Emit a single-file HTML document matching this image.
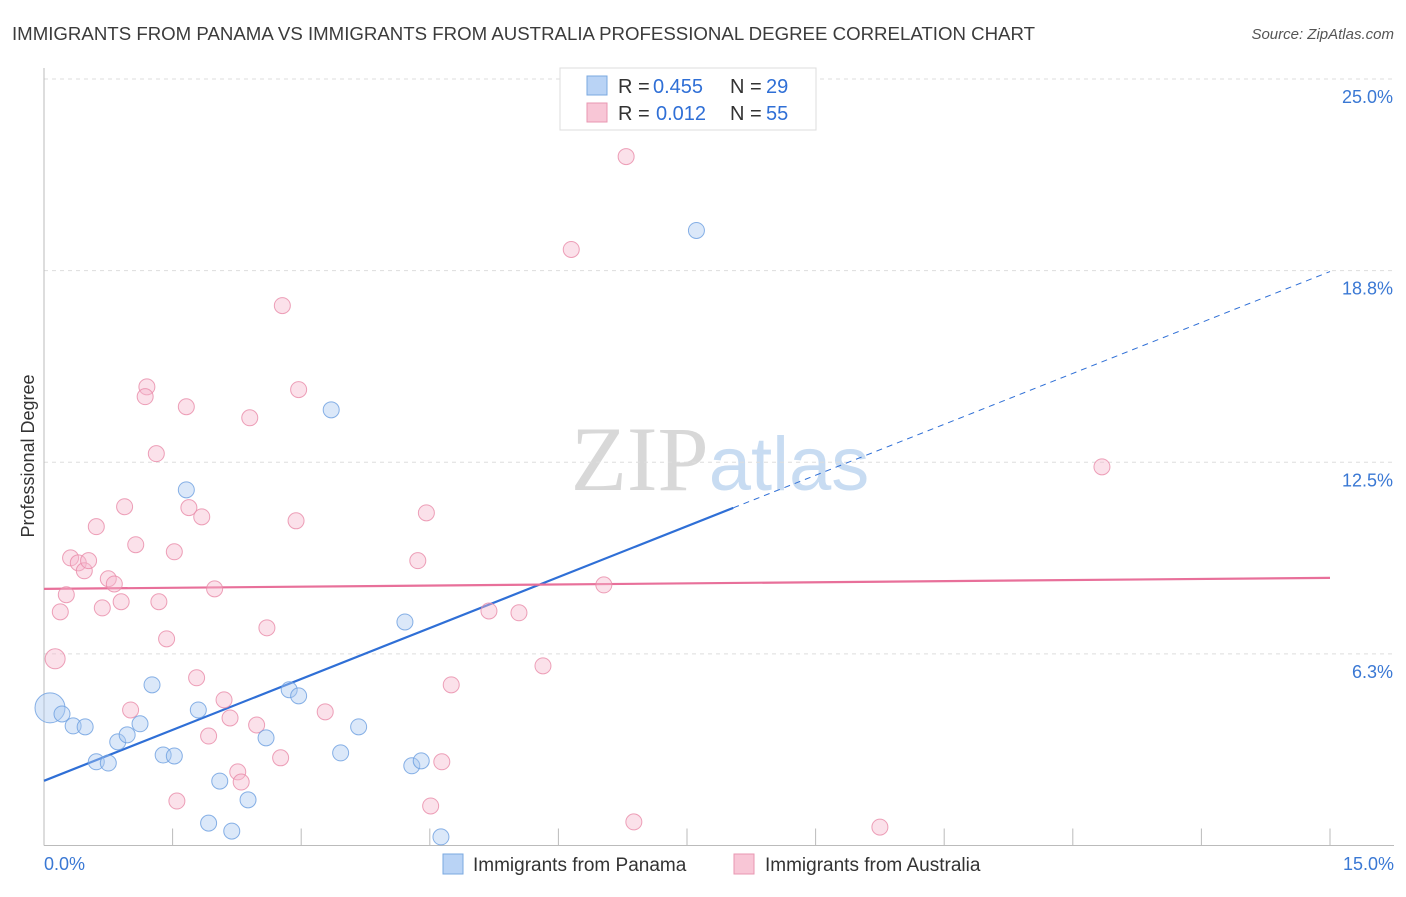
<!DOCTYPE html>
<html><head><meta charset="utf-8">
<style>
body{margin:0;background:#fff;font-family:"Liberation Sans",sans-serif;}
svg text{font-family:"Liberation Sans",sans-serif;}
</style></head>
<body>
<svg id="chart" width="1406" height="892" viewBox="0 0 1406 892" xmlns="http://www.w3.org/2000/svg">
<text x="12" y="40" font-size="18" fill="#3b3b3b" textLength="1023" lengthAdjust="spacingAndGlyphs">IMMIGRANTS FROM PANAMA VS IMMIGRANTS FROM AUSTRALIA PROFESSIONAL DEGREE CORRELATION CHART</text>
<text x="1394" y="39" font-size="15" fill="#555" text-anchor="end" font-style="italic">Source: ZipAtlas.com</text>
<text x="720" y="490" font-size="92" text-anchor="middle"><tspan font-family="Liberation Serif" fill="#d8d8d8">ZIP</tspan><tspan fill="#c8dcf2" font-size="76">atlas</tspan></text>
<text transform="translate(34,456) rotate(-90)" font-size="18" fill="#333" text-anchor="middle">Professional Degree</text>
<g id="grid"></g>
<g id="axes"></g>
<g id="lines"></g>
<g id="points"></g>
<g>
<rect x="560" y="68" width="256" height="62" fill="#fff" stroke="#ddd"/>
<rect x="587" y="76" width="20" height="19" fill="#b9d3f5" stroke="#7aa8e0"/>
<text x="618" y="93" font-size="20" fill="#333">R =</text>
<text x="653" y="93" font-size="20" fill="#2f6fd6">0.455</text>
<text x="730" y="93" font-size="20" fill="#333">N =</text>
<text x="766" y="93" font-size="20" fill="#2f6fd6">29</text>
<rect x="587" y="103" width="20" height="19" fill="#f8c6d6" stroke="#e897b2"/>
<text x="618" y="120" font-size="20" fill="#333">R =</text>
<text x="656" y="120" font-size="20" fill="#2f6fd6">0.012</text>
<text x="730" y="120" font-size="20" fill="#333">N =</text>
<text x="766" y="120" font-size="20" fill="#2f6fd6">55</text>
</g>
<g>
<rect x="443" y="854" width="20" height="20" fill="#b9d3f5" stroke="#7aa8e0"/>
<text x="473" y="871" font-size="19" fill="#333">Immigrants from Panama</text>
<rect x="734" y="854" width="20" height="20" fill="#f8c6d6" stroke="#e897b2"/>
<text x="765" y="871" font-size="19" fill="#333">Immigrants from Australia</text>
</g>
</svg>
<script>
const yTicks=[6.25,12.5,18.75,25];
const yTickLabels=["6.3%","12.5%","18.8%","25.0%"];
const xTicks=[0,1.5,3,4.5,6,7.5,9,10.5,12,13.5,15];
const xMin=0,xMax=15,yMax=25;
const panamaX=[0.07,0.21,0.34,0.48,0.61,0.75,0.86,0.97,1.12,1.26,1.39,1.52,1.66,1.80,1.92,2.05,2.19,2.38,2.59,2.86,2.97,3.35,3.46,3.67,4.21,4.29,4.40,4.63,7.61];
const panamaY=[4.49,4.29,3.90,3.87,2.73,2.69,3.38,3.61,3.97,5.24,2.95,2.92,11.60,4.42,0.73,2.10,0.47,1.49,3.51,5.08,4.88,14.21,3.02,3.87,7.29,2.60,2.76,0.28,20.06];
const australiaX=[0.13,0.19,0.26,0.31,0.40,0.47,0.52,0.61,0.68,0.75,0.82,0.90,0.94,1.01,1.07,1.20,1.18,1.31,1.34,1.43,1.52,1.55,1.66,1.69,1.78,1.84,1.92,1.99,2.10,2.17,2.26,2.30,2.40,2.48,2.60,2.76,2.78,2.94,2.97,3.28,4.36,4.46,4.51,4.64,4.75,5.19,5.54,5.82,6.15,6.53,6.79,6.88,9.75,12.34];
const australiaY=[6.09,7.62,8.18,9.38,9.22,8.96,9.29,10.40,7.75,8.70,8.53,7.95,11.05,4.42,9.81,14.96,14.64,12.78,7.95,6.74,9.58,1.45,14.31,11.02,5.47,10.72,3.57,8.37,4.75,4.16,2.40,2.07,13.95,3.93,7.10,2.86,17.61,10.59,14.87,4.36,9.29,10.85,1.29,2.73,5.24,7.65,7.59,5.86,19.44,8.50,22.47,0.77,0.60,12.35];
const panamaTrend=[2.11,18.72];
const panamaSolidEnd=8.04;
const australiaTrend=[8.37,8.73];

const L=44,R=1330,T=79,B=845.5;
const X=v=>L+(v-xMin)/(xMax-xMin)*(R-L);
const Y=v=>B-v/yMax*(B-T);
const NS="http://www.w3.org/2000/svg";
function mk(tag,attrs,parent){const e=document.createElementNS(NS,tag);for(const k in attrs)e.setAttribute(k,attrs[k]);parent.appendChild(e);return e;}
const grid=document.getElementById('grid'),axes=document.getElementById('axes'),lines=document.getElementById('lines'),pts=document.getElementById('points');
yTicks.forEach((t,i)=>{
 const g=mk('line',{x1:L,x2:1394,y1:Y(t),y2:Y(t),stroke:'#ddd','stroke-dasharray':'4,4'},grid);
 
 
 const tx=mk('text',{x:1393,y:Y(t)+24,'font-size':18,fill:'#3a78d4','text-anchor':'end'},axes);
 tx.textContent=yTickLabels[i];
 
 
});
const ya=mk('line',{x1:L,x2:L,y1:68,y2:B,stroke:'#bbb'},axes);


const xa=mk('line',{x1:L,x2:1394,y1:B,y2:B,stroke:'#bbb'},axes);


xTicks.forEach(t=>{
 const tk=mk('line',{x1:X(t),x2:X(t),y1:B,y2:B-17,stroke:'#bbb'},axes);
 
 
});
[[xMin,'start',44,'0.0%'],[xMax,'end',1394,'15.0%']].forEach(a=>{
 const tx=mk('text',{x:a[2],y:870,'font-size':18,fill:'#3a78d4','text-anchor':a[1]},axes);
 tx.textContent=a[3];
 
 
});
const bv=x=>panamaTrend[0]+(panamaTrend[1]-panamaTrend[0])*x/15;
const b1=mk('line',{x1:X(0),y1:Y(bv(0)),x2:X(panamaSolidEnd),y2:Y(bv(panamaSolidEnd)),stroke:'#2f6fd6','stroke-width':2.2},lines);


const b2=mk('line',{x1:X(panamaSolidEnd),y1:Y(bv(panamaSolidEnd)),x2:X(15),y2:Y(bv(15)),stroke:'#2f6fd6','stroke-width':1,'stroke-dasharray':'6,5'},lines);


const p1=mk('line',{x1:X(0),y1:Y(australiaTrend[0]),x2:X(15),y2:Y(australiaTrend[1]),stroke:'#e8709a','stroke-width':2.2},lines);


function dots(xs,ys,fill,stroke,name){
 xs.forEach((x,i)=>{
  const r=(i===0)?(name==='panama-point'?15:10):8;
  const c=mk('circle',{cx:X(x),cy:Y(ys[i]),r:r,fill:fill,'fill-opacity':0.42,stroke:stroke,'stroke-width':1,'stroke-opacity':0.8},pts);
  
  
 });
}
dots(australiaX,australiaY,'#f6b8cc','#e88aa8','australia-point');
dots(panamaX,panamaY,'#a9c8f0','#6a9ee0','panama-point');
</script>
</body></html>
